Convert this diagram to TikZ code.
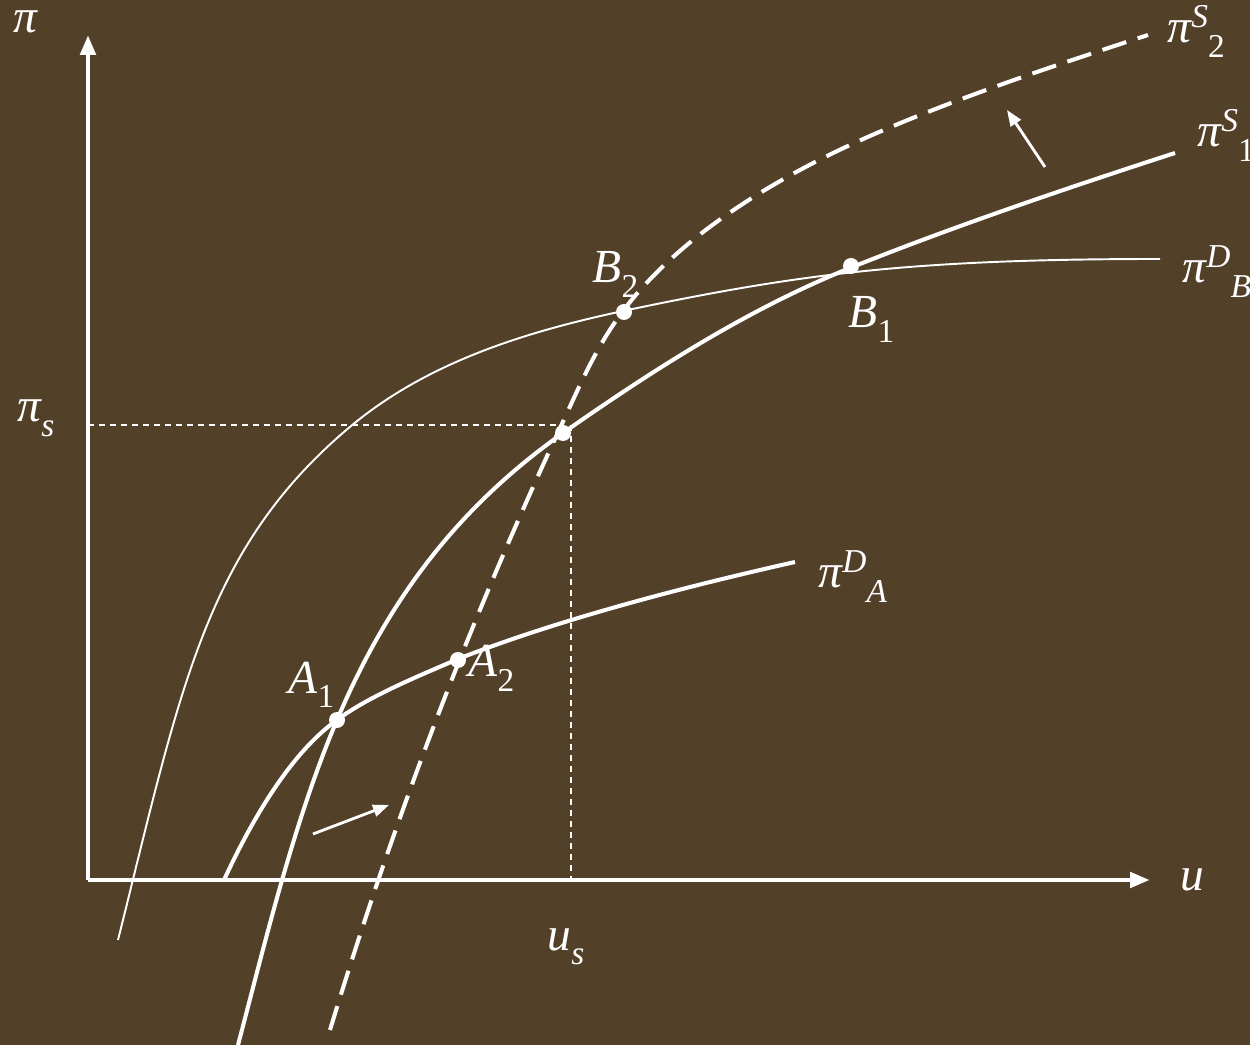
\documentclass[tikz,border=0pt]{standalone}
\usepackage{fontspec}
\setmainfont{Liberation Serif}
\usetikzlibrary{arrows.meta,calc,positioning}
\definecolor{bgbrown}{RGB}{83,64,41}
\newcommand{\scr}{\fontsize{9.5}{10}\selectfont}
\newcommand{\lbl}[3]{#1\raisebox{4.3pt}{\scr #2}\raisebox{-4pt}{\scr #3}}

\begin{document}
\begin{tikzpicture}[
    every node/.style={text=white, inner sep=0pt, anchor=base west,
      font=\fontsize{13.5}{15}\selectfont\itshape},
    axis/.style={white, line width=1.4pt, -{Triangle[length=0.2cm,width=0.15cm]}},
    curve/.style={white, line width=1.15pt},
    thincurve/.style={white, line width=0.55pt},
    dashcurve/.style={white, line width=1.15pt, dash pattern=on 0.25cm off 0.12cm},
    guide/.style={white, line width=0.6pt, dash pattern=on 0.06cm off 0.05cm},
    shiftarrow/.style={white, line width=0.8pt, -{Triangle[length=0.16cm,width=0.12cm]}},
    dot/.style={white}]
        \fill[bgbrown] (-0.88,-1.65) rectangle (11.62,8.80);
        \useasboundingbox (-0.88,-1.65) rectangle (11.62,8.80);
        \coordinate (O) at (0,0);
        \coordinate (A1) at (2.49,1.60);
        \coordinate (A2) at (3.70,2.21);
        \coordinate (E) at (4.75,4.47);
        \coordinate (B2) at (5.35,5.69);
        \coordinate (B1) at (7.62,6.12);
        \draw[guide] (0,4.55) -- (4.75,4.55);
        \draw[guide] (4.83,4.55) -- (4.83,0);
        \draw[thincurve] (0.30,-0.60) .. controls (0.93,1.92) and (1.17,3.32) .. (2.63,4.54)
            .. controls (3.40,5.18) and (4.37,5.48) .. (B2)
            .. controls (7.11,6.06) and (8.22,6.21) .. (10.72,6.21);
        \draw[curve] (1.36,0) .. controls (1.61,0.54) and (2.00,1.25) .. (A1)
            .. controls (2.81,1.84) and (3.33,2.05) .. (A2)
            .. controls (4.72,2.61) and (6.00,2.94) .. (7.07,3.18);
        \draw[curve] (1.50,-1.65) .. controls (1.78,-0.59) and (2.06,0.59) .. (A1)
            .. controls (3.00,2.80) and (3.69,3.72) .. (E)
            .. controls (5.65,5.10) and (6.60,5.71) .. (B1)
            .. controls (8.64,6.53) and (9.82,6.93) .. (10.87,7.27);
        \draw[dashcurve] (2.42,-1.50) .. controls (3.06,0.60) and (3.80,2.55) .. (4.73,4.54)
            .. controls (4.92,4.95) and (5.08,5.33) .. (B2)
            .. controls (5.89,6.41) and (6.80,6.97) .. (7.62,7.35)
            .. controls (8.53,7.77) and (9.65,8.14) .. (10.60,8.45);
        \draw[axis] (O) -- (10.62,0);
        \draw[axis] (O) -- (0,8.45);
        \coordinate (s1) at (2.25,0.46);
        \coordinate (s1tip) at (3.01,0.75);
        \coordinate (s2) at (9.57,7.13);
        \coordinate (s2tip) at (9.19,7.70);
        \draw[shiftarrow] (s1) -- (s1tip);
        \draw[shiftarrow] (s2) -- (s2tip);
        \fill[dot] (A1) circle (0.08);
        \fill[dot] (3.70,2.20) circle (0.08);
        \fill[dot] (E) circle (0.08);
        \fill[dot] (5.36,5.68) circle (0.08);
        \fill[dot] (7.63,6.14) circle (0.08);
        \node (piy) at (-0.75,8.47) {π};
        \node (pis) at (-0.71,4.58) {\lbl{π}{}{s}};
        \node (ux) at (10.92,-0.10) {u};
        \node (us) at (4.59,-0.70) {\lbl{u}{}{s}};
        \node (a1) at (2.00,1.87) {\lbl{A}{}{\upshape 1}};
        \node (a2) at (3.80,2.03) {\lbl{A}{}{\upshape 2}};
        \node (b2) at (5.04,5.97) {\lbl{B}{}{\upshape 2}};
        \node (b1) at (7.60,5.52) {\lbl{B}{}{\upshape 1}};
        \node (pda) at (7.30,2.92) {\lbl{π}{D}{A}};
        \node (pdb) at (10.94,5.97) {\lbl{π}{D}{B}};
        \node (ps1) at (11.09,7.33) {\lbl{π}{S}{\upshape 1}};
        \node (ps2) at (10.79,8.37) {\lbl{π}{S}{\upshape 2}};
      \end{tikzpicture}
\end{document}
